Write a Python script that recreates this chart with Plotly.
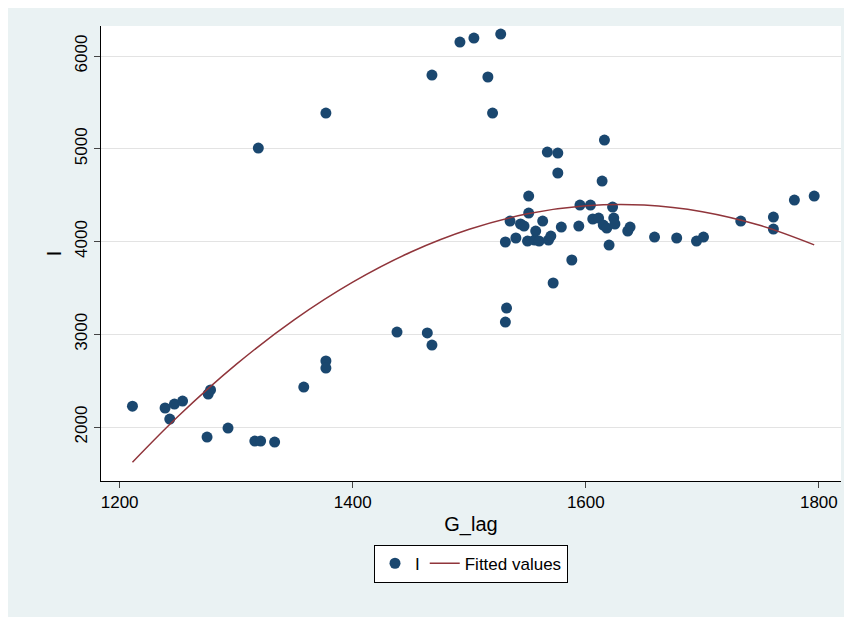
import plotly.graph_objects as go

g_lag = [1211, 1239, 1243, 1247, 1254, 1275, 1276, 1278, 1293, 1316, 1321, 1319, 1333,
         1358, 1377, 1377, 1377, 1438, 1464, 1468, 1468, 1492, 1504, 1527, 1516, 1520,
         1531, 1532, 1531, 1535, 1540, 1544, 1547, 1550, 1551, 1551, 1556, 1557, 1560,
         1563, 1567, 1568, 1570, 1572, 1576, 1576, 1579, 1588, 1594, 1595, 1604, 1606,
         1611, 1614, 1615, 1616, 1618, 1620, 1623, 1624, 1625, 1636, 1638, 1659, 1678,
         1695, 1701, 1733, 1761, 1761, 1779, 1796]
i_vals = [2225, 2205, 2086, 2248, 2280, 1892, 2356, 2400, 1989, 1849, 1849, 5008, 1838,
          2431, 2712, 2636, 5385, 3024, 3014, 2884, 5795, 6151, 6194, 6237, 5774, 5385,
          3132, 3283, 3995, 4221, 4038, 4189, 4167, 4005, 4490, 4307, 4016, 4113, 4005,
          4221, 4965, 4016, 4059, 3553, 4954, 4739, 4156, 3801, 4167, 4393, 4393, 4243,
          4253, 4652, 4178, 5094, 4145, 3962, 4372, 4253, 4189, 4113, 4156, 4048, 4038,
          4005, 4048, 4221, 4264, 4135, 4447, 4490]

fit_x = [1211, 1250, 1300, 1350, 1400, 1450, 1500, 1550, 1600, 1650, 1700, 1750, 1796]
fit_y = [1620, 2113, 2675, 3158, 3562, 3887, 4132, 4299, 4386, 4394, 4322, 4172, 3964]

fig = go.Figure()
fig.add_trace(go.Scatter(x=g_lag, y=i_vals, mode="markers", name="I",
                         marker=dict(color="#1a476f", size=11)))
fig.add_trace(go.Scatter(x=fit_x, y=fit_y, mode="lines", name="Fitted values",
                         line=dict(color="#90353b", width=1.5, shape="spline")))

fig.update_layout(
    width=852, height=617,
    paper_bgcolor="#eaf2f3", plot_bgcolor="white",
    margin=dict(l=93, r=19, t=18, b=144),
    font=dict(family="Arial", size=17, color="black"),
    showlegend=True,
    legend=dict(orientation="h", x=0.5, xanchor="center", y=-0.14, yanchor="top",
                bgcolor="white", bordercolor="black", borderwidth=1,
                font=dict(size=17)),
)
fig.update_xaxes(range=[1184, 1819], tickvals=[1200, 1400, 1600, 1800],
                 showgrid=False, showline=True, linecolor="black", ticks="outside",
                 ticklen=6, title=dict(text="G_lag", standoff=5), zeroline=False)
fig.update_yaxes(range=[1418, 6324], tickvals=[2000, 3000, 4000, 5000, 6000],
                 tickangle=-90, showgrid=True, gridcolor="#e3e3e3",
                 showline=True, linecolor="black", ticks="outside", ticklen=6,
                 title=dict(text="I", standoff=5), zeroline=False)

fig.write_html("out.html")
